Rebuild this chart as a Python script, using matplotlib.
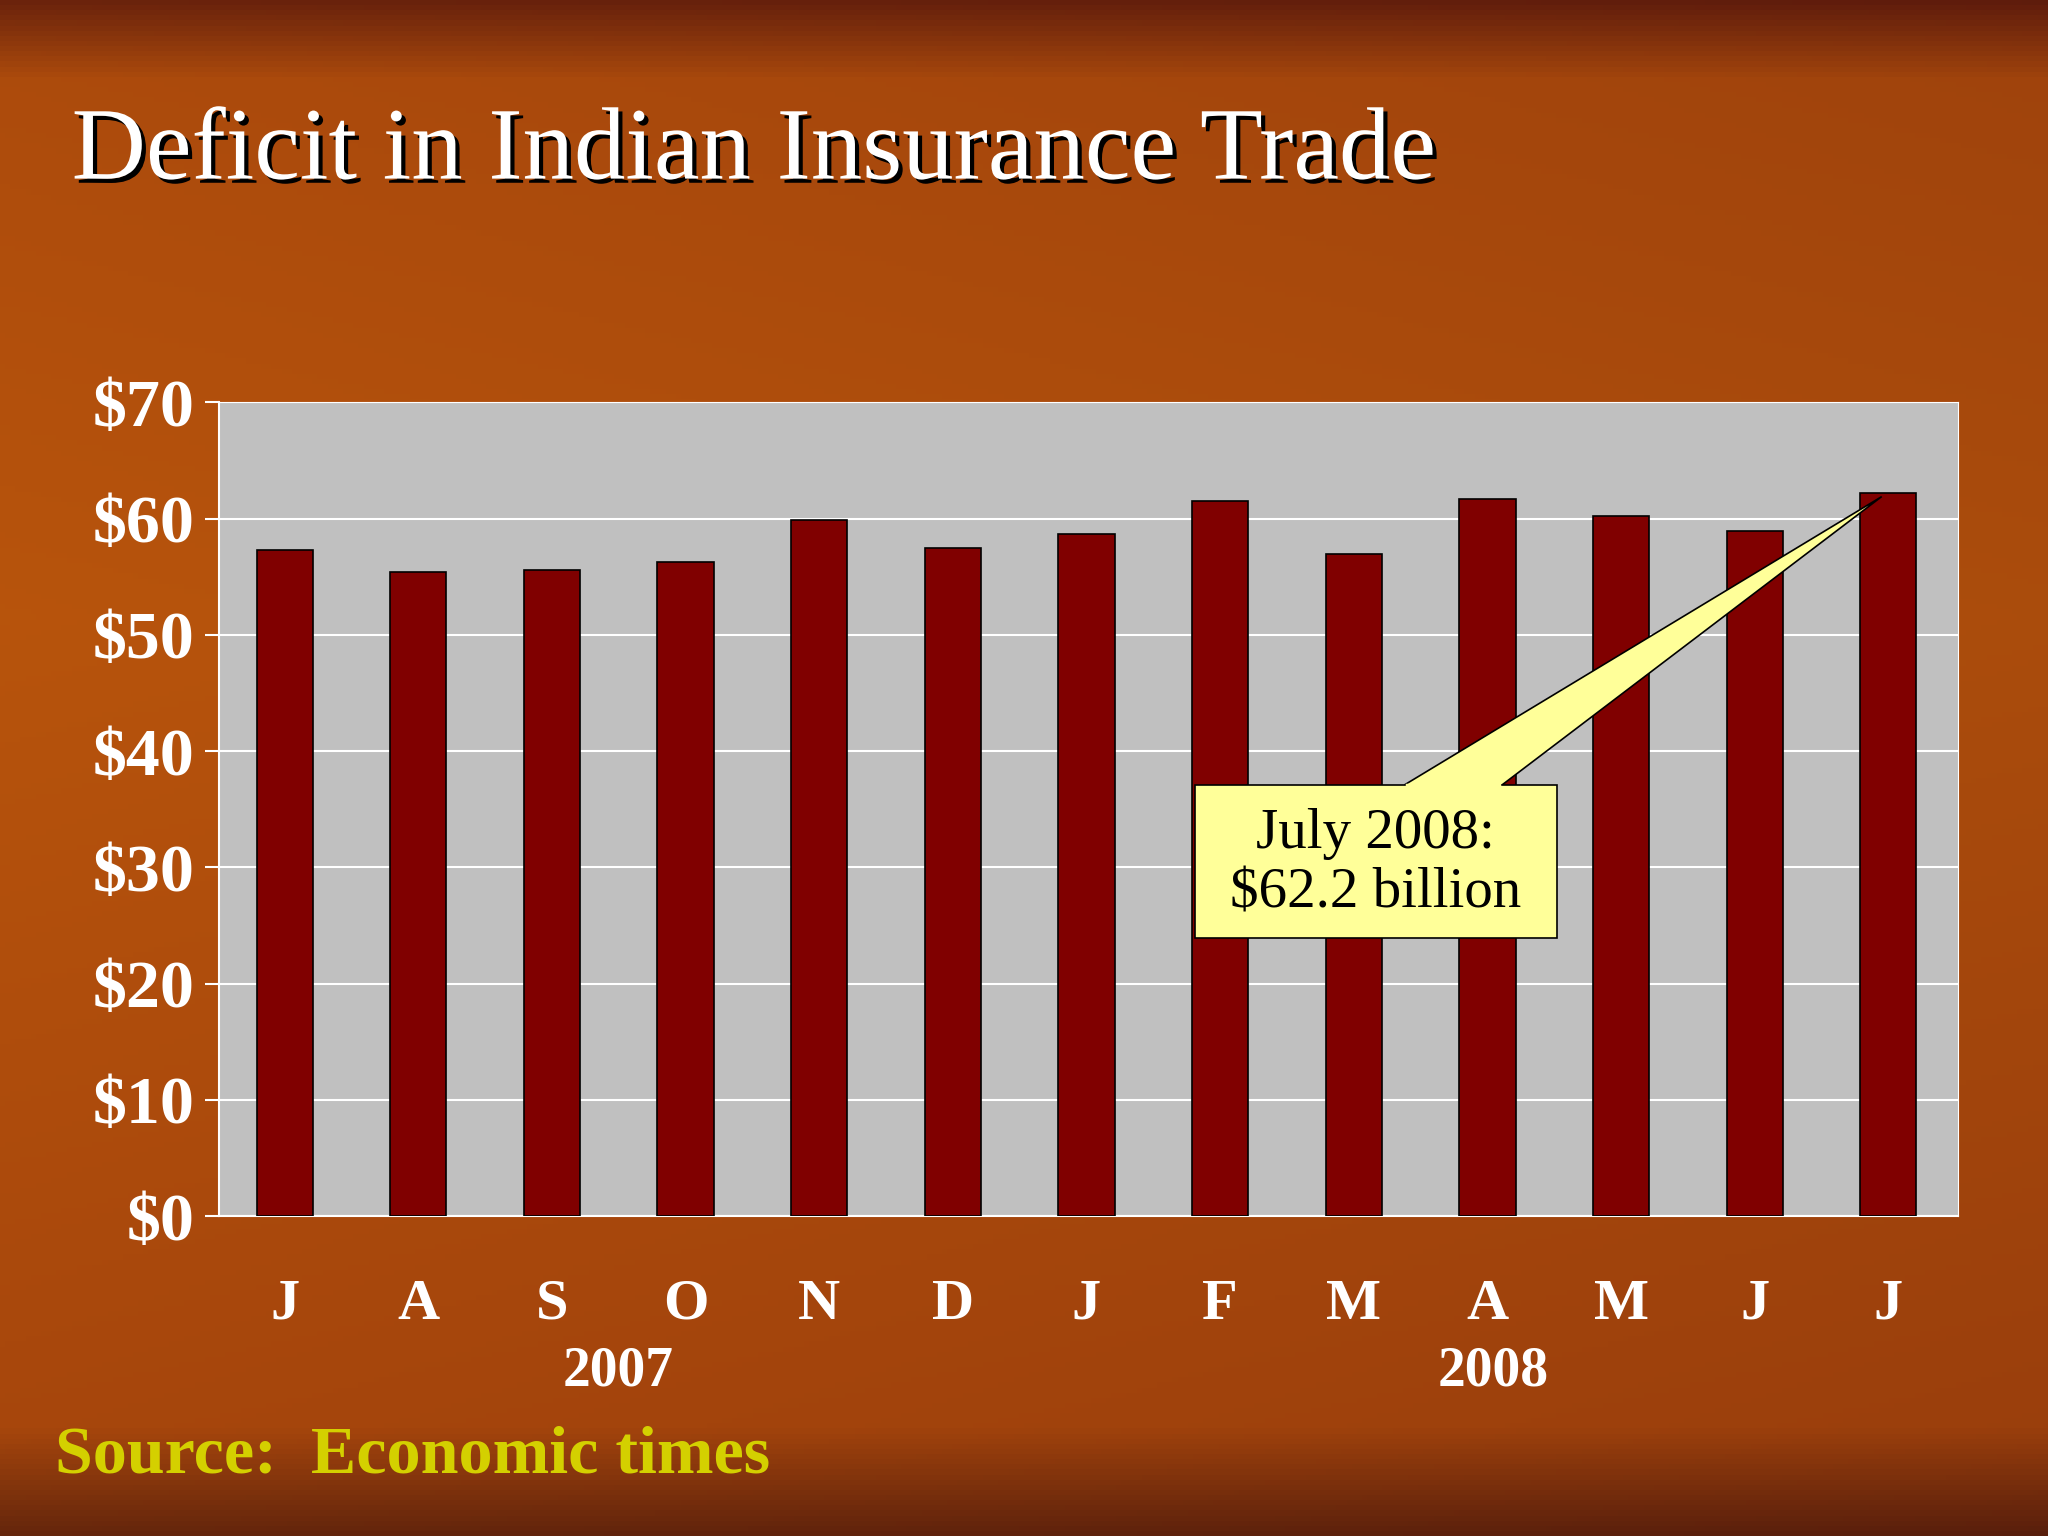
import matplotlib.pyplot as plt
import matplotlib.patheffects as pe
from matplotlib.patches import Polygon, Rectangle
import numpy as np

months = ['J', 'A', 'S', 'O', 'N', 'D', 'J', 'F', 'M', 'A', 'M', 'J', 'J']
deficit = [57.3, 55.4, 55.6, 56.3, 59.9, 57.5, 58.7, 61.5, 57.0, 61.7, 60.2, 58.9, 62.2]
yticks = [0, 10, 20, 30, 40, 50, 60, 70]

plt.rcParams['font.family'] = ['Liberation Serif', 'DejaVu Serif']

fig = plt.figure(figsize=(20.48, 15.36), dpi=100)

# background gradient
bg = fig.add_axes([0, 0, 1, 1])
yy, xx = np.mgrid[0:1:300j, 0:1:400j]
r = 0.72 - 0.12 * np.abs(yy - 0.4) - 0.05 * xx
g = 0.33 - 0.10 * np.abs(yy - 0.4) - 0.03 * xx
b = 0.05 + 0.0 * xx
top = yy < 0.05
r[top] -= 0.25 * (0.05 - yy[top]) / 0.05
g[top] -= 0.15 * (0.05 - yy[top]) / 0.05
bot = yy > 0.93
r[bot] -= 0.25 * (yy[bot] - 0.93) / 0.07
g[bot] -= 0.12 * (yy[bot] - 0.93) / 0.07
img = np.clip(np.dstack([r, g, b]), 0, 1)
bg.imshow(img, aspect='auto', extent=[0, 1, 0, 1], origin='upper')
bg.axis('off')

shadow = [pe.withSimplePatchShadow(offset=(3, -3), shadow_rgbFace='black', alpha=1.0)]
fig.text(0.035, 0.9, 'Deficit in Indian Insurance Trade', color='white', fontsize=74,
         va='center', ha='left', path_effects=shadow)

ax = fig.add_axes([0.107, 0.2083, 0.849, 0.5297])
ax.set_facecolor('#C0C0C0')
x = np.arange(len(months))
ax.bar(x, deficit, width=0.42, color='#800000', edgecolor='black', linewidth=1.2, zorder=3)
ax.set_xlim(-0.49, 12.52)
ax.set_ylim(0, 70)
ax.set_yticks(yticks)
ax.set_yticklabels([f'${v}' for v in yticks], color='white', fontsize=49, fontweight='bold')
ax.yaxis.grid(True, color='white', linewidth=1.5, zorder=0)
ax.set_xticks(x)
ax.set_xticklabels(months, color='white', fontsize=42, fontweight='bold')
ax.tick_params(axis='x', length=0, pad=45)
ax.tick_params(axis='y', length=10, color='white', width=1.5, pad=8)
for s in ['top', 'right']:
    ax.spines[s].set_color('white')
for s in ['left', 'bottom']:
    ax.spines[s].set_color('white')
    ax.spines[s].set_linewidth(1.5)

# callout
wedge = Polygon([[8.38, 37.1], [9.11, 37.1], [11.95, 61.9]], closed=True,
                facecolor='#FFFF99', edgecolor='black', linewidth=1.2, zorder=5, clip_on=False)
ax.add_patch(wedge)
box = Rectangle((6.81, 23.9), 2.71, 13.2, facecolor='#FFFF99', edgecolor='black',
                linewidth=1.2, zorder=6)
ax.add_patch(box)
ax.plot([8.4, 9.09], [37.1, 37.1], color='#FFFF99', linewidth=2.5, zorder=7)
ax.text(8.165, 30.3, 'July 2008:\n$62.2 billion', ha='center', va='center',
        fontsize=41, zorder=8, linespacing=1.2)

fig.text(0.302, 0.107, '2007', color='white', fontsize=40, fontweight='bold', ha='center', va='center')
fig.text(0.729, 0.107, '2008', color='white', fontsize=40, fontweight='bold', ha='center', va='center')
fig.text(0.027, 0.052, 'Source:  Economic times', color='#D4D000', fontsize=49,
         fontweight='bold', ha='left', va='center')

fig.savefig('out.png', dpi=100)
